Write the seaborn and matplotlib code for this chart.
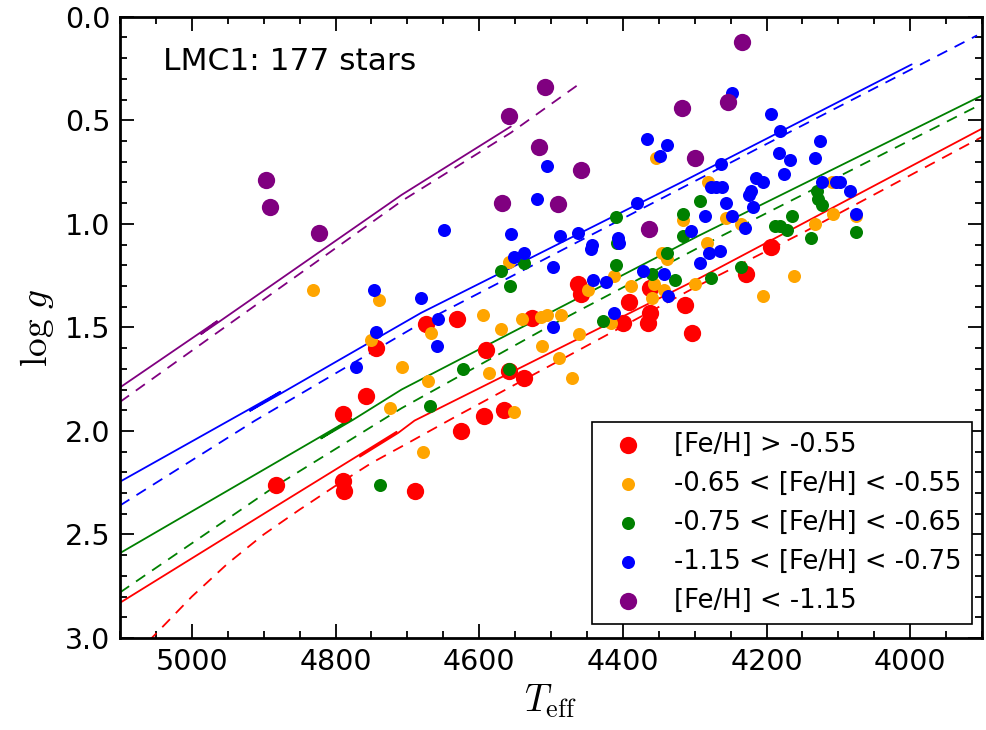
"""
LMC1 Kiel diagram: log g vs Teff split by metallicity bins, with isochrones.
"""

import numpy as np
import pandas as pd
import matplotlib
matplotlib.use("Agg")
import matplotlib.pyplot as plt
import seaborn as sns
from matplotlib.ticker import MultipleLocator

# stars (Teff [K], log g)
teff_red = [4883, 4790, 4788, 4689, 4626, 4593, 4566, 4790, 4757, 4743, 4674, 4631,
            4526, 4591, 4559, 4537, 4463, 4458, 4391, 4362, 4362, 4365, 4400, 4313,
            4304, 4229, 4194]
logg_red = [2.26, 2.24, 2.29, 2.29, 2.00, 1.93, 1.90, 1.92, 1.83, 1.60, 1.485, 1.46,
            1.455, 1.61, 1.71, 1.745, 1.29, 1.34, 1.375, 1.31, 1.43, 1.48, 1.48, 1.39,
            1.525, 1.24, 1.11]

teff_orange = [4831, 4740, 4751, 4708, 4724, 4678, 4671, 4667, 4595, 4569, 4586, 4552,
               4540, 4514, 4505, 4486, 4512, 4489, 4471, 4461, 4559, 4449, 4412, 4417,
               4388, 4357, 4359, 4343, 4345, 4338, 4299, 4283, 4354, 4316, 4281, 4257,
               4236, 4132, 4107, 4109, 4075, 4162, 4205]
logg_orange = [1.32, 1.37, 1.56, 1.69, 1.89, 2.10, 1.76, 1.525, 1.44, 1.51, 1.72, 1.91,
               1.46, 1.45, 1.44, 1.44, 1.59, 1.65, 1.745, 1.53, 1.185, 1.32, 1.25, 1.48,
               1.30, 1.29, 1.36, 1.32, 1.14, 1.17, 1.29, 1.09, 0.68, 0.98, 0.80, 0.97,
               1.00, 1.00, 0.95, 0.80, 0.96, 1.25, 1.35]

teff_green = [4738, 4668, 4622, 4559, 4569, 4557, 4537, 4428, 4410, 4408, 4359, 4339,
              4327, 4278, 4235, 4410, 4316, 4316, 4292, 4188, 4181, 4171, 4165, 4138,
              4130, 4128, 4123, 4076]
logg_green = [2.26, 1.88, 1.70, 1.70, 1.23, 1.30, 1.19, 1.47, 1.20, 1.09, 1.24, 1.14,
              1.27, 1.26, 1.21, 0.965, 0.95, 1.06, 0.89, 1.01, 1.01, 1.03, 0.96, 1.07,
              0.84, 0.88, 0.91, 1.04]

teff_blue = [4771, 4746, 4744, 4681, 4659, 4657, 4649, 4556, 4551, 4538, 4519, 4506,
             4497, 4497, 4487, 4463, 4443, 4444, 4441, 4423, 4412, 4407, 4406, 4381,
             4372, 4343, 4337, 4367, 4339, 4349, 4305, 4293, 4286, 4280, 4265, 4278,
             4271, 4262, 4264, 4257, 4248, 4248, 4230, 4225, 4221, 4219, 4214, 4205,
             4194, 4181, 4182, 4176, 4167, 4132, 4126, 4123, 4104, 4098, 4084, 4076]
logg_blue = [1.69, 1.32, 1.52, 1.36, 1.59, 1.46, 1.03, 1.05, 1.16, 1.14, 0.88, 0.72,
             1.21, 1.50, 1.06, 1.045, 1.10, 1.12, 1.27, 1.28, 1.43, 1.07, 1.09, 0.90,
             1.23, 1.24, 1.35, 0.59, 0.62, 0.67, 1.035, 1.19, 0.96, 1.14, 1.13, 0.82,
             0.82, 0.82, 0.71, 0.90, 0.96, 0.366, 1.02, 0.86, 0.84, 0.92, 0.78, 0.80,
             0.47, 0.55, 0.66, 0.76, 0.69, 0.68, 0.60, 0.80, 0.80, 0.80, 0.84, 0.95]

teff_purple = [4897, 4891, 4823, 4558, 4509, 4517, 4568, 4490, 4458, 4363, 4317, 4300,
               4253, 4234]
logg_purple = [0.79, 0.92, 1.045, 0.48, 0.34, 0.63, 0.90, 0.905, 0.74, 1.026, 0.44, 0.68,
               0.41, 0.12]

# isochrones (solid / dashed) for each metallicity bin; the short back-steps
# reproduce the little doubled piece (bump) seen on each solid track
iso_red_t = [5100, 4883, 4768, 4715, 4766, 4713, 4690, 4559, 4292, 3900]
iso_red_g = [2.83, 2.364, 2.118, 2.004, 2.124, 2.010, 1.95, 1.723, 1.26, 0.54]
iso_red_dash_t = [5060, 5000, 4950, 4900, 4850, 4800, 4750, 4700, 4635, 4296, 4148, 3900]
iso_red_dash_g = [3.015, 2.80, 2.64, 2.50, 2.38, 2.265, 2.155, 2.06, 1.935, 1.30, 1.04, 0.58]

iso_green_t = [5100, 4822, 4778, 4820, 4776, 4708, 4296, 3900]
iso_green_g = [2.59, 2.030, 1.941, 2.036, 1.947, 1.80, 1.06, 0.38]
iso_green_dash_t = [5100, 4883, 4708, 4500, 4292, 3900]
iso_green_dash_g = [2.78, 2.265, 1.89, 1.49, 1.11, 0.42]

iso_blue_t = [5100, 4921, 4877, 4919, 4875, 4681, 4319, 4181, 3998]
iso_blue_g = [2.245, 1.897, 1.811, 1.903, 1.817, 1.43, 0.80, 0.555, 0.23]
iso_blue_dash_t = [5100, 4912, 4681, 4431, 4181, 3907]
iso_blue_dash_g = [2.36, 1.95, 1.48, 1.03, 0.58, 0.09]

iso_purple_t = [5100, 4989, 4965, 4987, 4963, 4708, 4556]
iso_purple_g = [1.79, 1.527, 1.470, 1.532, 1.475, 0.86, 0.53]
iso_purple_dash_t = [5100, 4708, 4556, 4463]
iso_purple_dash_g = [1.86, 0.89, 0.56, 0.33]

labels = ["[Fe/H] > -0.55", "-0.65 < [Fe/H] < -0.55", "-0.75 < [Fe/H] < -0.65",
          "-1.15 < [Fe/H] < -0.75", "[Fe/H] < -1.15"]
colors = ["red", "orange", "green", "blue", "purple"]
sizes = [155, 88, 88, 88, 155]

sns.set_theme(style="ticks")
plt.rcParams["font.family"] = ["DejaVu Sans"]
plt.rcParams["mathtext.fontset"] = "cm"
plt.rcParams["lines.scale_dashes"] = False
plt.rcParams["text.color"] = "black"
plt.rcParams["axes.labelcolor"] = "black"

fig = plt.figure(figsize=(9.86, 7.30), dpi=100)
ax = fig.add_axes([0.1217, 0.126, 0.8743, 0.851])

isochrones = [
    (iso_red_t, iso_red_g, iso_red_dash_t, iso_red_dash_g, "red"),
    (iso_green_t, iso_green_g, iso_green_dash_t, iso_green_dash_g, "green"),
    (iso_blue_t, iso_blue_g, iso_blue_dash_t, iso_blue_dash_g, "blue"),
    (iso_purple_t, iso_purple_g, iso_purple_dash_t, iso_purple_dash_g, "purple"),
]
for t, g, td, gd, c in isochrones:
    sns.lineplot(x=t, y=g, sort=False, estimator=None, color=c, lw=1.3, ax=ax)
    sns.lineplot(x=td, y=gd, sort=False, estimator=None, color=c, lw=1.3,
                 linestyle=(0, (8, 6)), ax=ax)

groups = [(teff_red, logg_red), (teff_orange, logg_orange), (teff_green, logg_green),
          (teff_blue, logg_blue), (teff_purple, logg_purple)]
for (t, g), lab, c, s in zip(groups, labels, colors, sizes):
    sns.scatterplot(x=t, y=g, color=c, s=s, linewidth=0, label=lab, ax=ax, zorder=3)

ax.set_xlim(5100, 3900)
ax.set_ylim(3.0, 0.0)
ax.xaxis.set_major_locator(MultipleLocator(200))
ax.xaxis.set_minor_locator(MultipleLocator(50))
ax.yaxis.set_major_locator(MultipleLocator(0.5))
ax.yaxis.set_minor_locator(MultipleLocator(0.1))
ax.tick_params(which="both", direction="in", top=True, right=True, width=1.3,
               colors="black")
ax.tick_params(which="major", length=10, labelsize=20.5, pad=7)
ax.tick_params(which="minor", length=5)
for sp in ax.spines.values():
    sp.set_linewidth(2.0)
    sp.set_color("black")

ax.set_xlabel(r"$T_{\rm eff}$", fontsize=27, labelpad=5)
ax.set_ylabel(r"$\log\,g$", fontsize=27, labelpad=6)

ax.text(0.05, 0.928, "LMC1: 177 stars", transform=ax.transAxes, fontsize=22.5,
        va="center", ha="left", color="black")

leg = ax.legend(loc="lower right", bbox_to_anchor=(0.9884, 0.0225), borderaxespad=0,
                fontsize=18.6, frameon=True, fancybox=False, framealpha=1,
                edgecolor="black")
leg.get_frame().set_linewidth(1.2)

fig.savefig("out.png", dpi=100)
